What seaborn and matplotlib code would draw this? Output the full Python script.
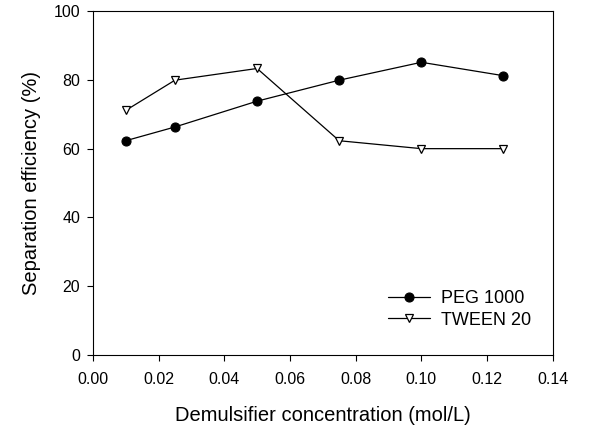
import matplotlib
matplotlib.use("Agg")
import matplotlib.pyplot as plt
import seaborn as sns
import pandas as pd

concentration = [0.01, 0.025, 0.05, 0.075, 0.10, 0.125]
peg_1000 = [62.3, 66.3, 73.8, 79.9, 85.1, 81.2]
tween_20 = [71.1, 79.9, 83.3, 62.3, 60.0, 60.0]
x_ticks = [0.00, 0.02, 0.04, 0.06, 0.08, 0.10, 0.12, 0.14]
y_ticks = [0, 20, 40, 60, 80, 100]

sns.set_theme(style="ticks")
plt.rcParams['font.family'] = ['Liberation Sans', 'DejaVu Sans']
plt.rcParams['text.color'] = 'black'
plt.rcParams['axes.labelcolor'] = 'black'

fig = plt.figure(figsize=(5.95, 4.32), dpi=100)
ax = fig.add_axes([0.156, 0.178, 0.773, 0.7965])

df_peg = pd.DataFrame({"x": concentration, "y": peg_1000})
df_tw = pd.DataFrame({"x": concentration, "y": tween_20})

sns.lineplot(data=df_peg, x="x", y="y", ax=ax, color="black", linewidth=0.9,
             marker="o", markersize=6.5, markerfacecolor="black",
             markeredgecolor="black", markeredgewidth=0.8, label="PEG 1000")
sns.lineplot(data=df_tw, x="x", y="y", ax=ax, color="black", linewidth=0.9,
             marker="v", markersize=6, markerfacecolor="white",
             markeredgecolor="black", markeredgewidth=0.9, label="TWEEN 20")

ax.set_xlim(0, 0.14)
ax.set_ylim(0, 100)
ax.set_xticks(x_ticks)
ax.set_xticklabels([f"{t:.2f}" for t in x_ticks])
ax.set_yticks(y_ticks)
ax.tick_params(direction="out", length=4, width=0.8, colors="black",
               labelsize=11.5, pad=5)
ax.tick_params(axis="x", pad=8)
for s in ax.spines.values():
    s.set_linewidth(0.8)
    s.set_color("black")
    s.set_visible(True)

ax.set_xlabel("Demulsifier concentration (mol/L)", fontsize=14.5, labelpad=14)
ax.set_ylabel("Separation efficiency (%)", fontsize=14.5, labelpad=9)

leg = ax.legend(loc="lower right", bbox_to_anchor=(0.98, 0.04), frameon=False,
                fontsize=13, handlelength=2.3, handletextpad=0.6,
                labelspacing=0.25, borderpad=0.2)
for t in leg.get_texts():
    t.set_color("black")

fig.savefig("out.png", dpi=100)
